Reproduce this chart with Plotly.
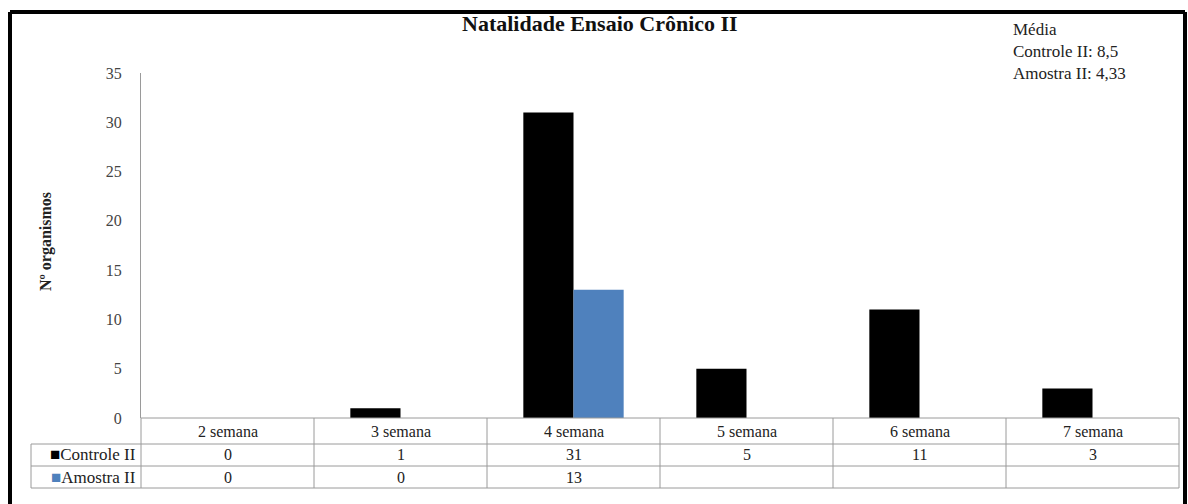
import plotly.graph_objects as go

# Weekly birth counts for the chronic assay
weeks = ["2 semana", "3 semana", "4 semana", "5 semana", "6 semana", "7 semana"]
controle = [0, 1, 31, 5, 11, 3]
amostra = [0, 0, 13, None, None, None]
series_names = ["Controle II", "Amostra II"]
series_colors = ["#000000", "#4f81bd"]
y_ticks = [0, 5, 10, 15, 20, 25, 30, 35]

title_text = "Natalidade Ensaio Crônico II"
y_title = "Nº organismos"
mean_text = "Média<br>Controle II: 8,5<br>Amostra II: 4,33"

W, H = 1188, 504
L, R, T, B = 141, 9, 73, 86
PW, PH = W - L - R, H - T - B
SERIF = "Liberation Serif, Times New Roman, serif"
GRID = "#9a9a9a"


def px(xp):
    return (xp - L) / PW


def py(yp):
    return (H - B - yp) / PH


fig = go.Figure()
for name, vals, col in zip(series_names, [controle, amostra], series_colors):
    fig.add_trace(go.Bar(x=weeks, y=vals, name=name, marker_color=col,
                         marker_line_width=0, showlegend=False))

shapes = []
annotations = []

# data table below the plot area
row_lines = [418, 444, 466, 488]
n = len(weeks)
cell_w = PW / n
left_col = 31
shapes.append(dict(type="line", xref="paper", yref="paper", x0=0, x1=1,
                   y0=py(row_lines[0]), y1=py(row_lines[0]),
                   line=dict(color=GRID, width=1)))
for yl in row_lines[1:]:
    shapes.append(dict(type="line", xref="paper", yref="paper",
                       x0=px(left_col), x1=1, y0=py(yl), y1=py(yl),
                       line=dict(color=GRID, width=1)))
for i in range(n + 1):
    xv = L + i * cell_w
    shapes.append(dict(type="line", xref="paper", yref="paper", x0=px(xv), x1=px(xv),
                       y0=py(row_lines[0]), y1=py(row_lines[-1]),
                       line=dict(color=GRID, width=1)))
shapes.append(dict(type="line", xref="paper", yref="paper", x0=px(left_col), x1=px(left_col),
                   y0=py(row_lines[1]), y1=py(row_lines[-1]),
                   line=dict(color=GRID, width=1)))

hdr_c = (row_lines[0] + row_lines[1]) / 2
row_c = [(row_lines[1] + row_lines[2]) / 2, (row_lines[2] + row_lines[3]) / 2]
cell_font = dict(family=SERIF, size=16, color="#222")
for w in weeks:
    annotations.append(dict(x=w, xref="x", yref="paper", y=py(hdr_c), text=w,
                            xanchor="center", yanchor="middle",
                            showarrow=False, font=cell_font))
for r, vals in enumerate([controle, amostra]):
    for w, v in zip(weeks, vals):
        if v is None:
            continue
        annotations.append(dict(x=w, xref="x", yref="paper", y=py(row_c[r]), text=str(v),
                                xanchor="center", yanchor="middle",
                                showarrow=False, font=cell_font))
    # legend key and series name
    annotations.append(dict(x=px(L - 3), xref="paper", yref="paper", y=py(row_c[r]),
                            xanchor="right", yanchor="middle",
                            text=f"<span style='color:{series_colors[r]}'>■</span>{series_names[r]}",
                            showarrow=False, font=dict(family=SERIF, size=17, color="#222")))

# y axis title
annotations.append(dict(x=px(46), y=py(242), xref="paper", yref="paper", text=f"<b>{y_title}</b>",
                        textangle=-90, showarrow=False, xanchor="center", yanchor="middle",
                        font=dict(family=SERIF, size=16, color="#222")))
# chart title
annotations.append(dict(x=px(600), y=py(23), xref="paper", yref="paper",
                        text=f"<b>{title_text}</b>", showarrow=False,
                        xanchor="center", yanchor="middle",
                        font=dict(family=SERIF, size=22, color="#111")))
# mean values box
annotations.append(dict(x=px(1011), y=py(18), xref="paper", yref="paper", xanchor="left",
                        yanchor="top", align="left", text=mean_text, showarrow=False,
                        font=dict(family=SERIF, size=17, color="#222")))

# outer frame
for x0, y0, x1, y1 in [(10, 12, 1185, 12), (10, 12, 10, 504), (1185, 12, 1185, 504)]:
    shapes.append(dict(type="line", xref="paper", yref="paper", x0=px(x0), x1=px(x1),
                       y0=py(y0), y1=py(y1), line=dict(color="#000", width=4)))

fig.update_layout(
    width=W, height=H, margin=dict(l=L, r=R, t=T, b=B),
    paper_bgcolor="white", plot_bgcolor="white",
    barmode="group", bargap=0.42, bargroupgap=0,
    shapes=shapes, annotations=annotations,
    xaxis=dict(showticklabels=False, showline=False, showgrid=False, zeroline=False,
               ticks=""),
    yaxis=dict(range=[0, 35], tickvals=y_ticks, showgrid=False, zeroline=False,
               showline=True, linecolor=GRID, linewidth=1, ticks="",
               ticklabelstandoff=15,
               tickfont=dict(family=SERIF, size=16, color="#444")),
)

fig.write_html("out.html")
